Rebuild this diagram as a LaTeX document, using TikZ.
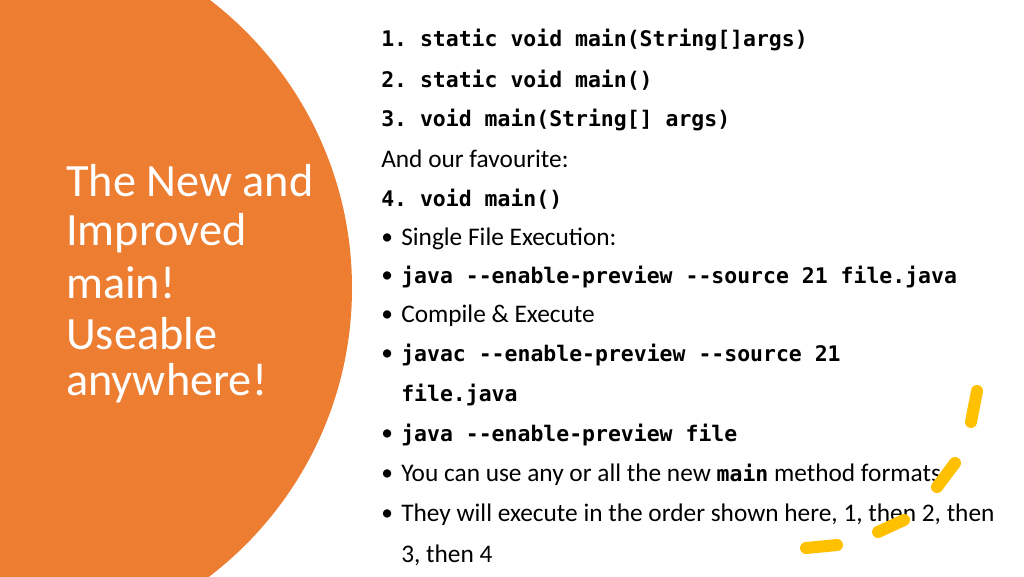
\documentclass[tikz,border=0pt]{standalone}
\usepackage{fontspec}
\setmainfont{Carlito}
\newfontfamily\codefont{DejaVu Sans Mono}
\definecolor{orng}{HTML}{ED7D31}
\definecolor{ylw}{HTML}{FFC000}
\frenchspacing
\begin{document}
\begin{tikzpicture}[x=0.75pt,y=-0.75pt,
  ln/.style={anchor=west,inner sep=0pt,font=\fontsize{19}{22}\selectfont},
  cd/.style={anchor=west,inner sep=0pt,font=\codefont\bfseries\fontsize{16.1}{20}\selectfont},
  bul/.style={anchor=west,inner sep=0pt,font=\fontsize{17.5}{20}\selectfont},
  ttl/.style={anchor=west,inner sep=0pt,text=white,font=\fontsize{34.7}{40}\selectfont},
  hmark/.style={draw=ylw,line width=9pt,line cap=round}]
\useasboundingbox (0,0) rectangle (1024,576);
\begin{scope}
\clip (0,0) rectangle (1024,576);
\fill[orng] (-11,288) circle (363);
\end{scope}
\node[ttl] (t1) at (66,181) {The New and};
\node[ttl] (t2) at (66,233) {Improved};
\node[ttl] (t3) at (66,283) {main!};
\node[ttl] (t4) at (66,334) {Useable};
\node[ttl] (t5) at (66,383) {anywhere!};
\node[cd] (l1) at (381,40) {1. static void main(String[]args)};
\node[cd] (l2) at (381,80) {2. static void main()};
\node[cd] (l3) at (381,120) {3. void main(String[] args)};
\node[ln] (l4) at (381,159) {And our favourite:};
\node[cd] (l5) at (381,199) {4. void main()};
\foreach \y/\t/\c in {239/{Single File Execution:}/0,
  277/{java --enable-preview --source 21 file.java}/1,
  316/{Compile \& Execute}/0,
  355/{javac --enable-preview --source 21}/1,
  435/{java --enable-preview file}/1}{
  \node[bul] at (381,\y) {•};
  \ifnum\c=1 \node[cd] at (401,\y) {\t};\else \node[ln] at (401,\y) {\t};\fi
}
\node[cd] (b5b) at (401,395) {file.java};
\node[bul] (d1) at (381,475) {•};
\node[ln] (b7) at (401,475) {You can use any or all the new {\codefont\bfseries\fontsize{16.1}{20}\selectfont main} method formats.};
\node[bul] (d2) at (381,515) {•};
\node[ln] (b8) at (401,515) {They will execute in the order shown here, 1, then 2, then};
\node[ln] (b9) at (401,555) {3, then 4};
\draw[hmark] (977,391) -- (971,422);
\draw[hmark] (955,463) -- (937,487);
\draw[hmark] (904,520) -- (878,532);
\draw[hmark] (837,545) -- (806,548);
\end{tikzpicture}
\end{document}
